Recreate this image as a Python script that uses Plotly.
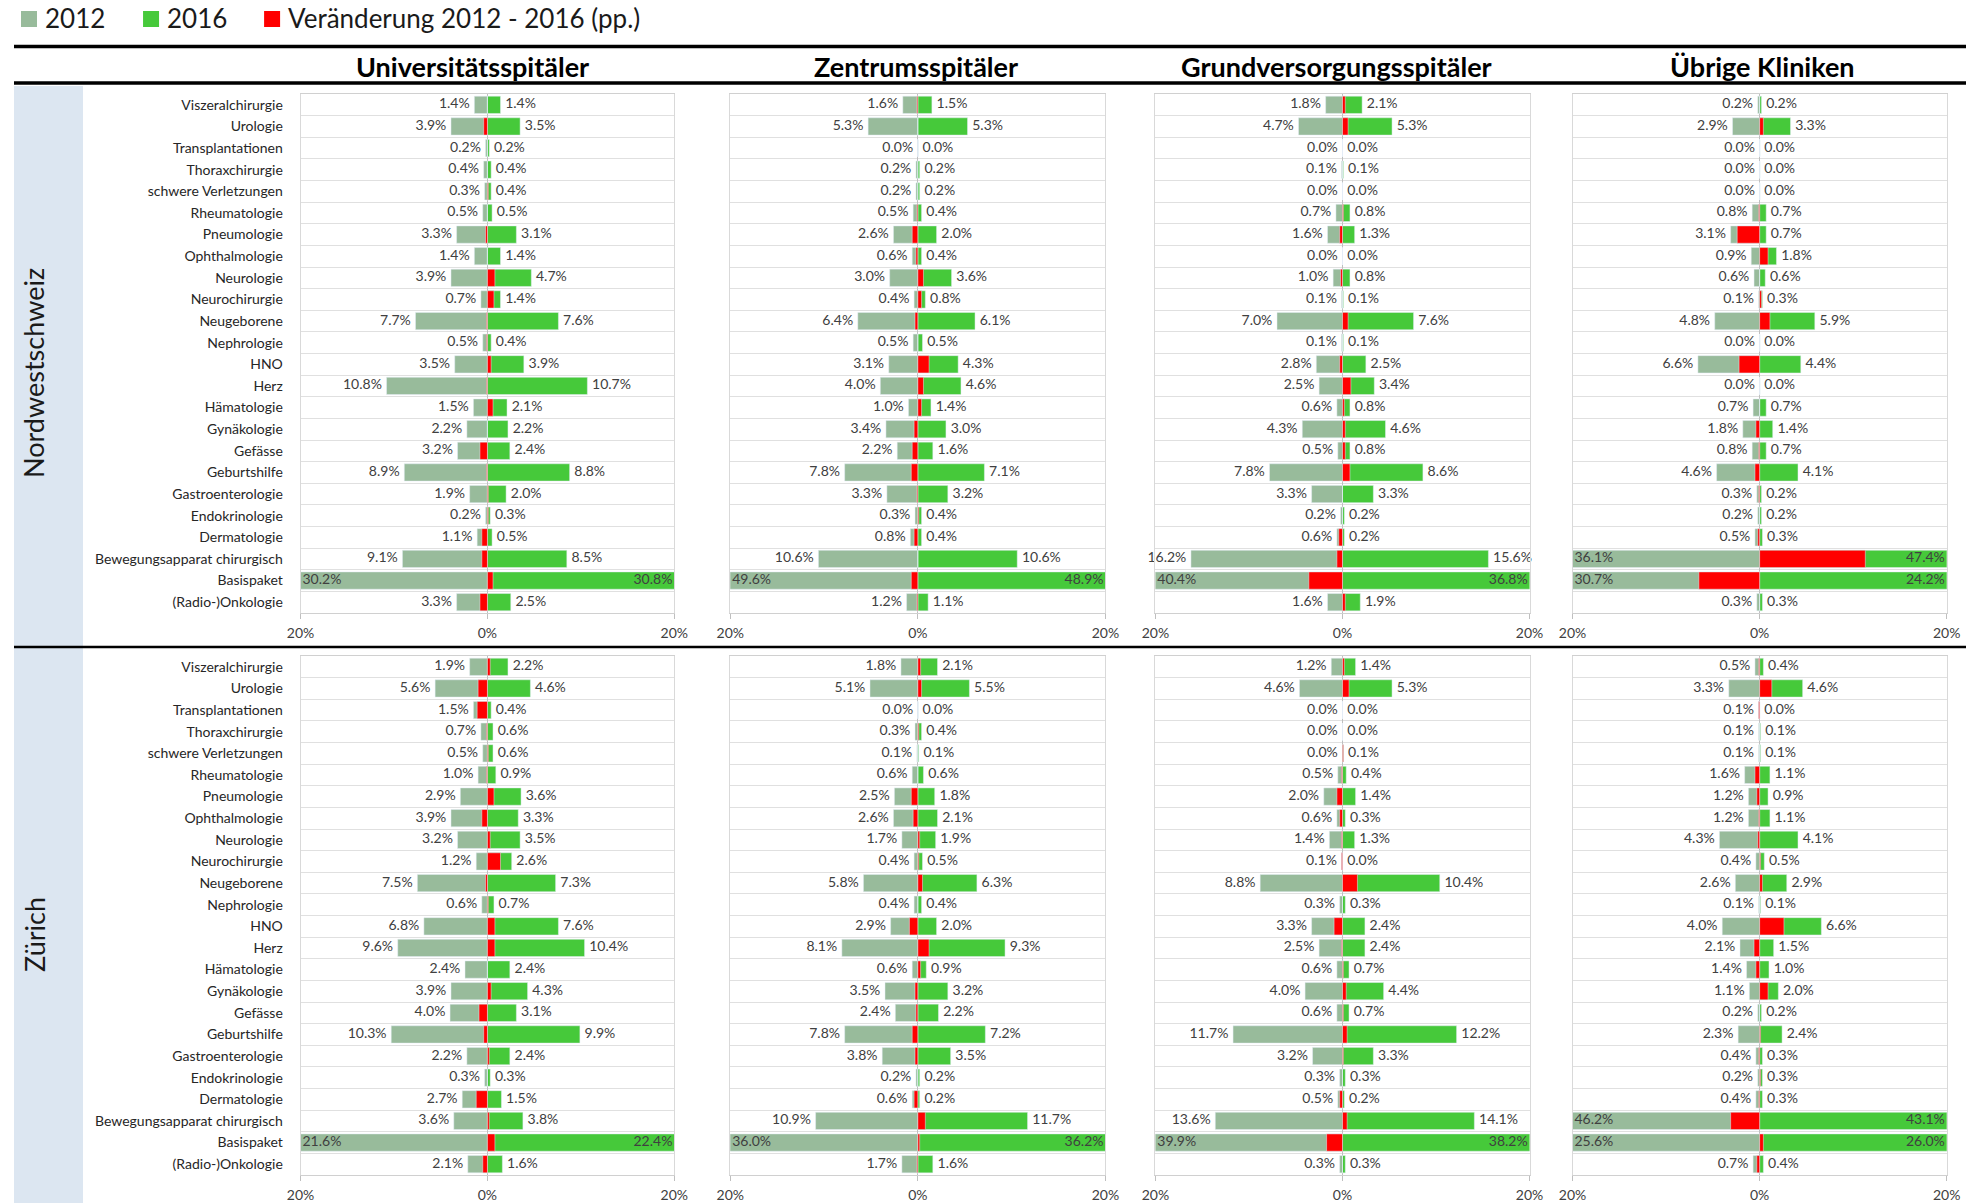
import plotly.graph_objects as go

categories = ["Viszeralchirurgie", "Urologie", "Transplantationen", "Thoraxchirurgie",
              "schwere Verletzungen", "Rheumatologie", "Pneumologie", "Ophthalmologie",
              "Neurologie", "Neurochirurgie", "Neugeborene", "Nephrologie", "HNO", "Herz",
              "Hämatologie", "Gynäkologie", "Gefässe", "Geburtshilfe", "Gastroenterologie",
              "Endokrinologie", "Dermatologie", "Bewegungsapparat chirurgisch", "Basispaket",
              "(Radio-)Onkologie"]

hospital_types = ["Universitätsspitäler", "Zentrumsspitäler", "Grundversorgungsspitäler", "Übrige Kliniken"]
regions = ["Nordwestschweiz", "Zürich"]

# Nordwestschweiz
nws_uni_2012 = [1.4, 3.9, 0.2, 0.4, 0.3, 0.5, 3.3, 1.4, 3.9, 0.7, 7.7, 0.5, 3.5, 10.8, 1.5, 2.2, 3.2, 8.9, 1.9, 0.2, 1.1, 9.1, 30.2, 3.3]
nws_uni_2016 = [1.4, 3.5, 0.2, 0.4, 0.4, 0.5, 3.1, 1.4, 4.7, 1.4, 7.6, 0.4, 3.9, 10.7, 2.1, 2.2, 2.4, 8.8, 2.0, 0.3, 0.5, 8.5, 30.8, 2.5]
nws_zen_2012 = [1.6, 5.3, 0.0, 0.2, 0.2, 0.5, 2.6, 0.6, 3.0, 0.4, 6.4, 0.5, 3.1, 4.0, 1.0, 3.4, 2.2, 7.8, 3.3, 0.3, 0.8, 10.6, 49.6, 1.2]
nws_zen_2016 = [1.5, 5.3, 0.0, 0.2, 0.2, 0.4, 2.0, 0.4, 3.6, 0.8, 6.1, 0.5, 4.3, 4.6, 1.4, 3.0, 1.6, 7.1, 3.2, 0.4, 0.4, 10.6, 48.9, 1.1]
nws_gru_2012 = [1.8, 4.7, 0.0, 0.1, 0.0, 0.7, 1.6, 0.0, 1.0, 0.1, 7.0, 0.1, 2.8, 2.5, 0.6, 4.3, 0.5, 7.8, 3.3, 0.2, 0.6, 16.2, 40.4, 1.6]
nws_gru_2016 = [2.1, 5.3, 0.0, 0.1, 0.0, 0.8, 1.3, 0.0, 0.8, 0.1, 7.6, 0.1, 2.5, 3.4, 0.8, 4.6, 0.8, 8.6, 3.3, 0.2, 0.2, 15.6, 36.8, 1.9]
nws_ueb_2012 = [0.2, 2.9, 0.0, 0.0, 0.0, 0.8, 3.1, 0.9, 0.6, 0.1, 4.8, 0.0, 6.6, 0.0, 0.7, 1.8, 0.8, 4.6, 0.3, 0.2, 0.5, 36.1, 30.7, 0.3]
nws_ueb_2016 = [0.2, 3.3, 0.0, 0.0, 0.0, 0.7, 0.7, 1.8, 0.6, 0.3, 5.9, 0.0, 4.4, 0.0, 0.7, 1.4, 0.7, 4.1, 0.2, 0.2, 0.3, 47.4, 24.2, 0.3]

# Zürich
zh_uni_2012 = [1.9, 5.6, 1.5, 0.7, 0.5, 1.0, 2.9, 3.9, 3.2, 1.2, 7.5, 0.6, 6.8, 9.6, 2.4, 3.9, 4.0, 10.3, 2.2, 0.3, 2.7, 3.6, 21.6, 2.1]
zh_uni_2016 = [2.2, 4.6, 0.4, 0.6, 0.6, 0.9, 3.6, 3.3, 3.5, 2.6, 7.3, 0.7, 7.6, 10.4, 2.4, 4.3, 3.1, 9.9, 2.4, 0.3, 1.5, 3.8, 22.4, 1.6]
zh_zen_2012 = [1.8, 5.1, 0.0, 0.3, 0.1, 0.6, 2.5, 2.6, 1.7, 0.4, 5.8, 0.4, 2.9, 8.1, 0.6, 3.5, 2.4, 7.8, 3.8, 0.2, 0.6, 10.9, 36.0, 1.7]
zh_zen_2016 = [2.1, 5.5, 0.0, 0.4, 0.1, 0.6, 1.8, 2.1, 1.9, 0.5, 6.3, 0.4, 2.0, 9.3, 0.9, 3.2, 2.2, 7.2, 3.5, 0.2, 0.2, 11.7, 36.2, 1.6]
zh_gru_2012 = [1.2, 4.6, 0.0, 0.0, 0.0, 0.5, 2.0, 0.6, 1.4, 0.1, 8.8, 0.3, 3.3, 2.5, 0.6, 4.0, 0.6, 11.7, 3.2, 0.3, 0.5, 13.6, 39.9, 0.3]
zh_gru_2016 = [1.4, 5.3, 0.0, 0.0, 0.1, 0.4, 1.4, 0.3, 1.3, 0.0, 10.4, 0.3, 2.4, 2.4, 0.7, 4.4, 0.7, 12.2, 3.3, 0.3, 0.2, 14.1, 38.2, 0.3]
zh_ueb_2012 = [0.5, 3.3, 0.1, 0.1, 0.1, 1.6, 1.2, 1.2, 4.3, 0.4, 2.6, 0.1, 4.0, 2.1, 1.4, 1.1, 0.2, 2.3, 0.4, 0.2, 0.4, 46.2, 25.6, 0.7]
zh_ueb_2016 = [0.4, 4.6, 0.0, 0.1, 0.1, 1.1, 0.9, 1.1, 4.1, 0.5, 2.9, 0.1, 6.6, 1.5, 1.0, 2.0, 0.2, 2.4, 0.3, 0.3, 0.3, 43.1, 26.0, 0.4]

x_ticks = [-20, 0, 20]
x_ticklabels = ["20%", "0%", "20%"]
legend_names = ["2012", "2016", "Veränderung 2012 - 2016 (pp.)"]

panels = [
    [(nws_uni_2012, nws_uni_2016), (nws_zen_2012, nws_zen_2016), (nws_gru_2012, nws_gru_2016), (nws_ueb_2012, nws_ueb_2016)],
    [(zh_uni_2012, zh_uni_2016), (zh_zen_2012, zh_zen_2016), (zh_gru_2012, zh_gru_2016), (zh_ueb_2012, zh_ueb_2016)],
]

C2012 = "#98BB9B"
C2016 = "#46C93A"
CCHG = "#FF0000"
COLORS = [C2012, C2016, CCHG]
FONT = "Lato"
LABEL_COL = "#404040"

W, H = 1980, 1203
XLIM = 20
LABEL_GAP = 0.5   # gap between bar end and its value label, in axis units

# map target picture pixel positions to paper fractions
SX_OFF, SX_SCALE = 14.0, 0.9855

def px_x(p):
    v = (p - SX_OFF) / SX_SCALE / W
    return min(max(v, 0.0), 1.0)

def px_y(p):
    return 1 - p / H

col_px = [(300.5, 674), (730, 1105), (1155, 1529), (1572, 1946)]
row_px = [(94, 613), (656, 1175)]
title_px = [472, 916, 1336, 1762]

fig = go.Figure()
layout_axes = {}
ypos = list(range(len(categories)))

for r in range(2):
    for c in range(4):
        idx = r * 4 + c + 1
        xa = "x" if idx == 1 else f"x{idx}"
        ya = "y" if idx == 1 else f"y{idx}"
        v12, v16 = panels[r][c]
        chg = [round(b - a, 1) for a, b in zip(v12, v16)]
        fig.add_trace(go.Bar(y=ypos, x=[-v for v in v12], orientation="h", marker_color=C2012,
                             width=0.8, name=legend_names[0], showlegend=False,
                             xaxis=xa, yaxis=ya, hoverinfo="skip"))
        fig.add_trace(go.Bar(y=ypos, x=v16, orientation="h", marker_color=C2016,
                             width=0.8, name=legend_names[1], showlegend=False,
                             xaxis=xa, yaxis=ya, hoverinfo="skip"))
        fig.add_trace(go.Bar(y=ypos, x=chg, orientation="h", marker_color=CCHG,
                             width=0.8, name=legend_names[2], showlegend=False,
                             xaxis=xa, yaxis=ya, hoverinfo="skip"))
        lx, lp, rx, rp = [], [], [], []
        for v in v12:
            if v > XLIM:
                lx.append(-XLIM + LABEL_GAP * 0.4); lp.append("middle right")
            else:
                lx.append(-v - LABEL_GAP); lp.append("middle left")
        for v in v16:
            if v > XLIM:
                rx.append(XLIM - LABEL_GAP * 0.4); rp.append("middle left")
            else:
                rx.append(v + LABEL_GAP); rp.append("middle right")
        fig.add_trace(go.Scatter(y=ypos, x=lx, mode="text", text=[f"{v:.1f}%" for v in v12],
                                 textposition=lp, textfont=dict(size=14, color=LABEL_COL, family=FONT),
                                 cliponaxis=False, showlegend=False, hoverinfo="skip",
                                 xaxis=xa, yaxis=ya))
        fig.add_trace(go.Scatter(y=ypos, x=rx, mode="text", text=[f"{v:.1f}%" for v in v16],
                                 textposition=rp, textfont=dict(size=14, color=LABEL_COL, family=FONT),
                                 cliponaxis=False, showlegend=False, hoverinfo="skip",
                                 xaxis=xa, yaxis=ya))

        xkey = "xaxis" if idx == 1 else f"xaxis{idx}"
        ykey = "yaxis" if idx == 1 else f"yaxis{idx}"
        x0, x1 = col_px[c]
        y0, y1 = row_px[r]
        layout_axes[xkey] = dict(
            domain=[px_x(x0), px_x(x1)], anchor=ya, range=[-XLIM, XLIM],
            tickmode="array", tickvals=x_ticks, ticktext=x_ticklabels,
            ticks="outside", ticklen=5, tickcolor="#bfbfbf", ticklabelstandoff=2,
            showgrid=False, zeroline=True, zerolinecolor="#bfbfbf", zerolinewidth=1,
            showline=True, linecolor="#d0d0d0", linewidth=1, mirror=True,
            tickfont=dict(size=14, color=LABEL_COL, family=FONT), fixedrange=True)
        layout_axes[ykey] = dict(
            domain=[px_y(y1), px_y(y0)], anchor=xa, range=[len(categories) - 0.5, -0.5],
            tickmode="array", tickvals=ypos, ticktext=categories,
            showticklabels=(c == 0), ticks="", ticklabelstandoff=14,
            showgrid=False, zeroline=False,
            minor=dict(tickmode="array", tickvals=[i + 0.5 for i in range(-1, len(categories))],
                       showgrid=True, gridcolor="#e0e0e0", gridwidth=1, ticks=""),
            showline=True, linecolor="#d9d9d9", linewidth=1, mirror=True,
            tickfont=dict(size=14, color="#262626", family=FONT), fixedrange=True)

fig.update_layout(**layout_axes)

shapes = [
    dict(type="rect", xref="paper", yref="paper", x0=0, x1=px_x(83), y0=0, y1=px_y(86),
         fillcolor="#DCE6F1", line=dict(width=0), layer="below"),
    dict(type="line", xref="paper", yref="paper", x0=0, x1=px_x(1976), y0=px_y(46.5), y1=px_y(46.5),
         line=dict(color="black", width=3.5)),
    dict(type="line", xref="paper", yref="paper", x0=0, x1=px_x(1976), y0=px_y(83), y1=px_y(83),
         line=dict(color="black", width=3.5)),
    dict(type="line", xref="paper", yref="paper", x0=0, x1=1, y0=px_y(647), y1=px_y(647),
         line=dict(color="black", width=2.5)),
]

annotations = []
legend_sq_px = [21, 143, 264]
for i, name in enumerate(legend_names):
    sx = legend_sq_px[i]
    shapes.append(dict(type="rect", xref="paper", yref="paper", x0=px_x(sx), x1=px_x(sx + 16),
                       y0=px_y(27), y1=px_y(11), fillcolor=COLORS[i], line=dict(width=0)))
    annotations.append(dict(text=name, xref="paper", yref="paper", x=px_x(sx + 22), y=px_y(18),
                            showarrow=False, xanchor="left", yanchor="middle",
                            font=dict(size=26, color="#1a1a1a", family=FONT)))

for c, name in enumerate(hospital_types):
    annotations.append(dict(text=f"<b>{name}</b>", xref="paper", yref="paper",
                            x=px_x(title_px[c]), y=px_y(66), showarrow=False,
                            xanchor="center", yanchor="middle",
                            font=dict(size=27, color="black", family=FONT)))
row_centers = [373, 935]
for r, name in enumerate(regions):
    annotations.append(dict(text=name, xref="paper", yref="paper", x=px_x(34), y=px_y(row_centers[r]),
                            showarrow=False, textangle=-90, xanchor="center", yanchor="middle",
                            font=dict(size=27, color="#1a1a1a", family=FONT)))

fig.update_layout(
    width=W, height=H, margin=dict(l=0, r=0, t=0, b=0),
    paper_bgcolor="white", plot_bgcolor="white",
    barmode="overlay", bargap=0.2, showlegend=False,
    font=dict(family=FONT, color="#262626"),
    shapes=shapes, annotations=annotations,
)

fig.write_html(
    "out.html",
    config={"displayModeBar": False},
    post_script="document.body.style.margin='0';document.body.style.overflow='hidden';"
                "document.documentElement.style.overflow='hidden';",
)
